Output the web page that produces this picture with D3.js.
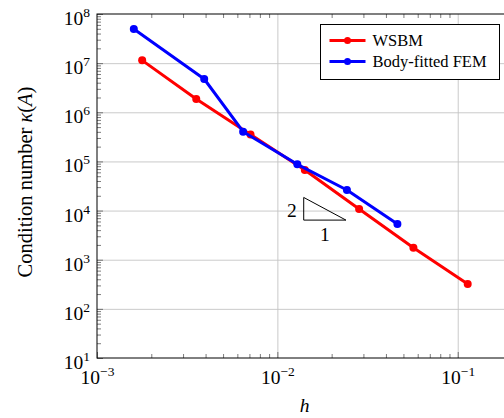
<!doctype html>
<html lang="en">
<head>
  <meta charset="utf-8">
  <title>Condition number</title>
  <style>
    body { margin: 0; background: #fff; }
    svg { display: block; font-family: "Liberation Serif", "DejaVu Serif", serif; }
    .grid line { stroke: #c4c4c4; stroke-width: 0.9; }
    .ticks line { stroke: #444; stroke-width: 0.7; }
    .grid path, .ticks path { display: none; }
  </style>
</head>
<body>
  <div id="chart"></div>
  <script src="https://cdn.jsdelivr.net/npm/d3@7"></script>
  <script>
(function(){

  // data
  var wsbmH     = [1.78e-3, 3.55e-3, 7.1e-3, 1.42e-2, 2.84e-2, 5.68e-2, 1.136e-1];
  var wsbmKappa = [1.14e7, 1.86e6, 3.53e5, 6.7e4, 1.08e4, 1.75e3, 3.2e2];
  var femH      = [1.60e-3, 3.93e-3, 6.46e-3, 1.29e-2, 2.43e-2, 4.63e-2];
  var femKappa  = [4.95e7, 4.76e6, 4.03e5, 8.74e4, 2.62e4, 5.33e3];
  var xMajor = [1e-3, 1e-2, 1e-1];
  var yMajor = [1e1, 1e2, 1e3, 1e4, 1e5, 1e6, 1e7, 1e8];
  var xExp = ["\u22123", "\u22122", "\u22121"];
  var yExp = ["1", "2", "3", "4", "5", "6", "7", "8"];
  var slopeTri = [[1.4e-2, 6.4e3], [2.4e-2, 6.4e3], [1.4e-2, 1.85e4]];
  var legendNames = ["WSBM", "Body-fitted FEM"];

  var width = 504, height = 418;
  var left = 97, right = 508, top = 14, bottom = 358;
  var tickFont = 19.5, supFont = 13.5;

  var svg = d3.select("#chart").append("svg")
      .attr("width", width)
      .attr("height", height);

  var x = d3.scaleLog().domain([1e-3, 0.19]).range([left, right]);
  var y = d3.scaleLog().domain([10, 1e8]).range([bottom, top]);

  function minors(lo, hi) {
    var out = [];
    for (var e = lo; e < hi; e++)
      for (var m = 2; m <= 9; m++) out.push(m * Math.pow(10, e));
    return out;
  }
  var xMinor = minors(-3, 0).filter(function(v){ return v < 0.19; });
  var yMinor = minors(1, 8);

  // grid
  svg.append("g").attr("class", "grid")
      .attr("transform", "translate(0," + bottom + ")")
      .call(d3.axisBottom(x).tickValues(xMajor.slice(1)).tickSize(-(bottom - top)).tickFormat(""));
  svg.append("g").attr("class", "grid")
      .attr("transform", "translate(" + left + ",0)")
      .call(d3.axisLeft(y).tickValues(yMajor.slice(1, -1)).tickSize(-(right - left)).tickFormat(""));

  // minor ticks on the visible sides
  svg.append("g").attr("class", "ticks")
      .attr("transform", "translate(0," + bottom + ")")
      .call(d3.axisBottom(x).tickValues(xMinor).tickSize(-4).tickFormat(""));
  svg.append("g").attr("class", "ticks")
      .attr("transform", "translate(0," + top + ")")
      .call(d3.axisTop(x).tickValues(xMinor).tickSize(-4).tickFormat(""));
  svg.append("g").attr("class", "ticks")
      .attr("transform", "translate(" + left + ",0)")
      .call(d3.axisLeft(y).tickValues(yMinor).tickSize(-4).tickFormat(""));

  // major ticks + labels
  var xa = svg.append("g").attr("class", "ticks")
      .attr("transform", "translate(0," + bottom + ")")
      .call(d3.axisBottom(x).tickValues(xMajor).tickSize(-6).tickPadding(0));
  xa.selectAll("text").each(function(d, i) {
    var t = d3.select(this).text(null)
        .attr("y", 26).attr("dy", null)
        .attr("fill", "#000")
        .attr("font-size", tickFont)
        .attr("text-anchor", "middle")
        .attr("font-family", "Liberation Serif");
    t.append("tspan").text("10");
    t.append("tspan").attr("font-size", supFont).attr("dy", -8).text(xExp[i]);
  });

  var ya = svg.append("g").attr("class", "ticks")
      .attr("transform", "translate(" + left + ",0)")
      .call(d3.axisLeft(y).tickValues(yMajor).tickSize(-6).tickPadding(0));
  ya.selectAll("text").each(function(d, i) {
    var t = d3.select(this).text(null)
        .attr("x", -7).attr("dy", null).attr("y", 10.5)
        .attr("fill", "#000")
        .attr("font-size", tickFont)
        .attr("text-anchor", "end")
        .attr("font-family", "Liberation Serif");
    t.append("tspan").text("10");
    t.append("tspan").attr("font-size", supFont).attr("dy", -8).text(yExp[i]);
  });

  // frame
  svg.append("rect")
      .attr("x", left).attr("y", top)
      .attr("width", right - left).attr("height", bottom - top)
      .attr("fill", "none").attr("stroke", "#000").attr("stroke-width", 1);

  // series
  var series = [
    { name: legendNames[0], color: "#ff0000", h: wsbmH, k: wsbmKappa },
    { name: legendNames[1], color: "#0000ff", h: femH, k: femKappa }
  ];
  var line = d3.line().x(function(d){ return x(d[0]); }).y(function(d){ return y(d[1]); });

  series.forEach(function(s) {
    var pts = d3.zip(s.h, s.k);
    svg.append("path").datum(pts)
        .attr("d", line)
        .attr("fill", "none")
        .attr("stroke", s.color)
        .attr("stroke-width", 3)
        .attr("stroke-linejoin", "round");
    svg.selectAll(null).data(pts).enter().append("circle")
        .attr("cx", function(d){ return x(d[0]); })
        .attr("cy", function(d){ return y(d[1]); })
        .attr("r", 4)
        .attr("fill", s.color);
  });

  // slope triangle
  svg.append("path")
      .attr("d", line(slopeTri) + "Z")
      .attr("fill", "none").attr("stroke", "#000").attr("stroke-width", 1);
  svg.append("text")
      .attr("x", x(slopeTri[0][0]) - 7).attr("y", (y(slopeTri[0][1]) + y(slopeTri[2][1])) / 2 + 8)
      .attr("text-anchor", "end").attr("font-size", tickFont).text("2");
  svg.append("text")
      .attr("x", (x(slopeTri[0][0]) + x(slopeTri[1][0])) / 2).attr("y", y(slopeTri[0][1]) + 21)
      .attr("text-anchor", "middle").attr("font-size", tickFont).text("1");

  // legend
  var lg = svg.append("g").attr("transform", "translate(320.5,24.5)");
  lg.append("rect").attr("width", 179).attr("height", 55)
      .attr("fill", "#fff").attr("stroke", "#000").attr("stroke-width", 1);
  series.forEach(function(s, i) {
    var row = lg.append("g").attr("transform", "translate(0," + (16 + i * 21) + ")");
    row.append("line").attr("x1", 9).attr("x2", 45)
        .attr("stroke", s.color).attr("stroke-width", 3);
    row.append("circle").attr("cx", 27).attr("r", 3.5).attr("fill", s.color);
    row.append("text").attr("x", 52).attr("y", 5.5)
        .attr("font-size", 16.5).text(s.name);
  });

  // axis titles
  svg.append("text")
      .attr("x", (left + right) / 2 + 2).attr("y", 412)
      .attr("text-anchor", "middle").attr("font-size", 19.5)
      .attr("font-style", "italic").text("h");

  var yl = svg.append("text")
      .attr("transform", "translate(32," + ((top + bottom) / 2 - 4) + ") rotate(-90)")
      .attr("text-anchor", "middle").attr("font-size", 20.5);
  yl.append("tspan").text("Condition number ");
  yl.append("tspan").attr("font-style", "italic").text("\u03ba");
  yl.append("tspan").text("(");
  yl.append("tspan").attr("font-style", "italic").text("A");
  yl.append("tspan").text(")");

})();
  </script>
</body>
</html>
